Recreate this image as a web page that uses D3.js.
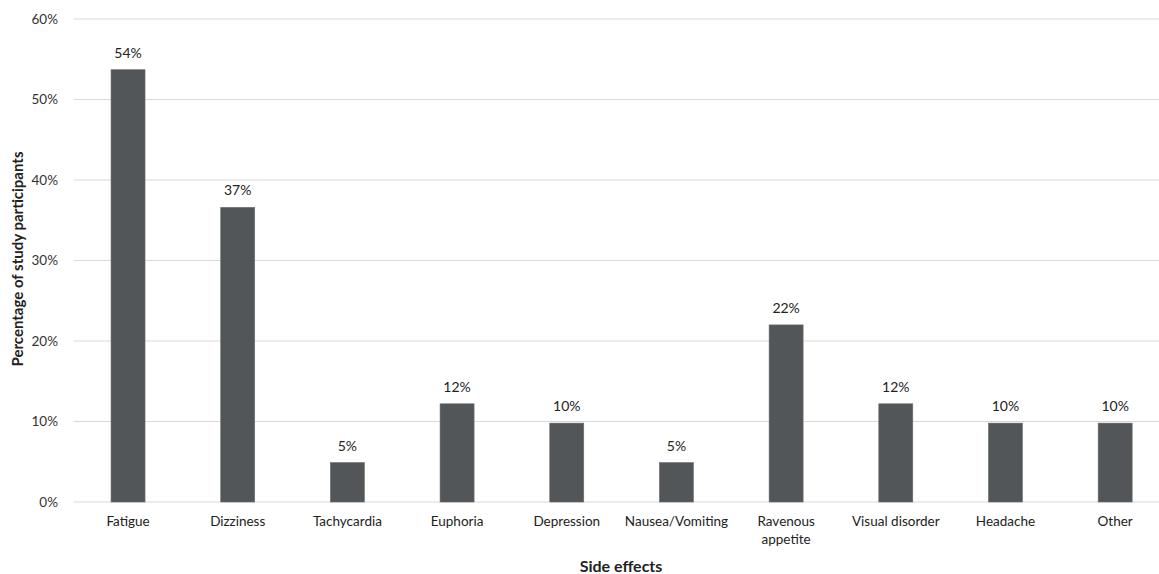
<!DOCTYPE html>
<html><head><meta charset="utf-8">
<script src="https://cdn.jsdelivr.net/npm/d3@7"></script>
<style>body{margin:0;background:#fff}svg{display:block}</style>
</head><body>
<svg id="chart" width="1159" height="574"></svg>
<script>
const categories = ["Fatigue","Dizziness","Tachycardia","Euphoria","Depression","Nausea/Vomiting","Ravenous appetite","Visual disorder","Headache","Other"];
const values = [53.7,36.6,4.9,12.2,9.8,4.9,22.0,12.2,9.8,9.8];
const valueLabels = ["54%","37%","5%","12%","10%","5%","22%","12%","10%","10%"];
const yTicks = [0,10,20,30,40,50,60];

const svg = d3.select("#chart");
const font = "Lato, 'Open Sans', sans-serif";
const x = d3.scaleBand().domain(categories).range([73.2, 1170]).paddingInner(0.69).paddingOuter(0.345);
const y = d3.scaleLinear().domain([0,60]).range([502, 19]);

// grid
svg.append("g").selectAll("line").data(yTicks).join("line")
  .attr("x1", 74).attr("x2", 1159)
  .attr("y1", d=>y(d)).attr("y2", d=>y(d))
  .attr("stroke", "#d9d9d9").attr("stroke-width", 1);

// y axis labels
const yAxis = d3.axisLeft(y).tickValues(yTicks).tickFormat(d=>d+"%").tickSize(0).tickPadding(16);
const ya = svg.append("g").attr("transform","translate(74,0)").call(yAxis);
ya.select(".domain").remove();
ya.selectAll("text").attr("font-family",font).attr("font-size",13.5).attr("fill","#333");

// bars
svg.append("g").selectAll("rect").data(categories).join("rect")
  .attr("x", d=>x(d)).attr("width", x.bandwidth())
  .attr("y", (d,i)=>y(values[i])).attr("height",(d,i)=>y(0)-y(values[i]))
  .attr("fill","#535659").attr("stroke","#6a6d70").attr("stroke-width",0.6);

// value labels
svg.append("g").selectAll("text").data(categories).join("text")
  .attr("x", d=>x(d)+x.bandwidth()/2).attr("y",(d,i)=>y(values[i])-12)
  .attr("text-anchor","middle").attr("font-family",font).attr("font-size",14).attr("fill","#222")
  .text((d,i)=>valueLabels[i]);

// x axis
const xAxis = d3.axisBottom(x).tickSize(0).tickPadding(14);
const xa = svg.append("g").attr("transform","translate(0,502)").call(xAxis);
xa.select(".domain").remove();
xa.selectAll("text").attr("font-family",font).attr("font-size",13.5).attr("fill","#222")
  .each(function(d){
    const t = d3.select(this);
    if (d === "Ravenous appetite") {
      t.text(null);
      t.append("tspan").attr("x",0).attr("dy","0.71em").text("Ravenous");
      t.append("tspan").attr("x",0).attr("dy","1.35em").text("appetite");
      t.attr("dy",null);
    }
  });

// axis titles
svg.append("text").attr("x",621).attr("y",572).attr("text-anchor","middle")
  .attr("font-family",font).attr("font-size",16).attr("font-weight","bold").attr("fill","#222").text("Side effects");
svg.append("text").attr("transform","translate(23,259) rotate(-90)").attr("text-anchor","middle")
  .attr("font-family",font).attr("font-size",15).attr("font-weight","bold").attr("fill","#222").text("Percentage of study participants");
</script>
</body></html>
